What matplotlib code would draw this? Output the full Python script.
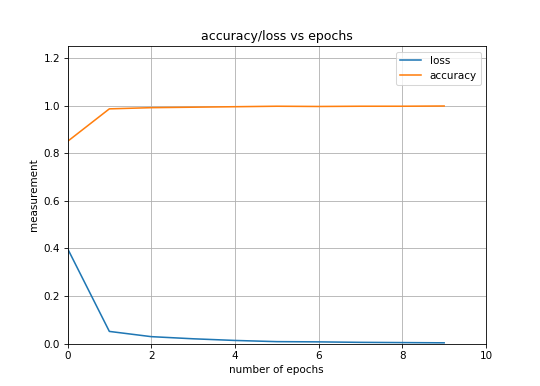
import numpy as np
import matplotlib
matplotlib.use("Agg")
import matplotlib.pyplot as plt

epochs = [0, 1, 2, 3, 4, 5, 6, 7, 8, 9]
loss = [0.400, 0.051, 0.029, 0.020, 0.013, 0.008, 0.007, 0.005, 0.004, 0.003]
accuracy = [0.850, 0.987, 0.992, 0.994, 0.996, 0.998, 0.997, 0.998, 0.998, 0.999]

# original looks like a bigger figure shrunk down, so render at dpi 75
fig = plt.figure(figsize=(540 / 75, 386 / 75), dpi=75)
plt.plot(epochs, loss, label="loss")
plt.plot(epochs, accuracy, label="accuracy")
plt.xlim(0, 10)
plt.ylim(0, 1.25)
plt.xlabel("number of epochs")
plt.ylabel("measurement")
plt.title("accuracy/loss vs epochs")
plt.legend(loc="upper right")
plt.grid()
plt.savefig("out.png", dpi=75)
